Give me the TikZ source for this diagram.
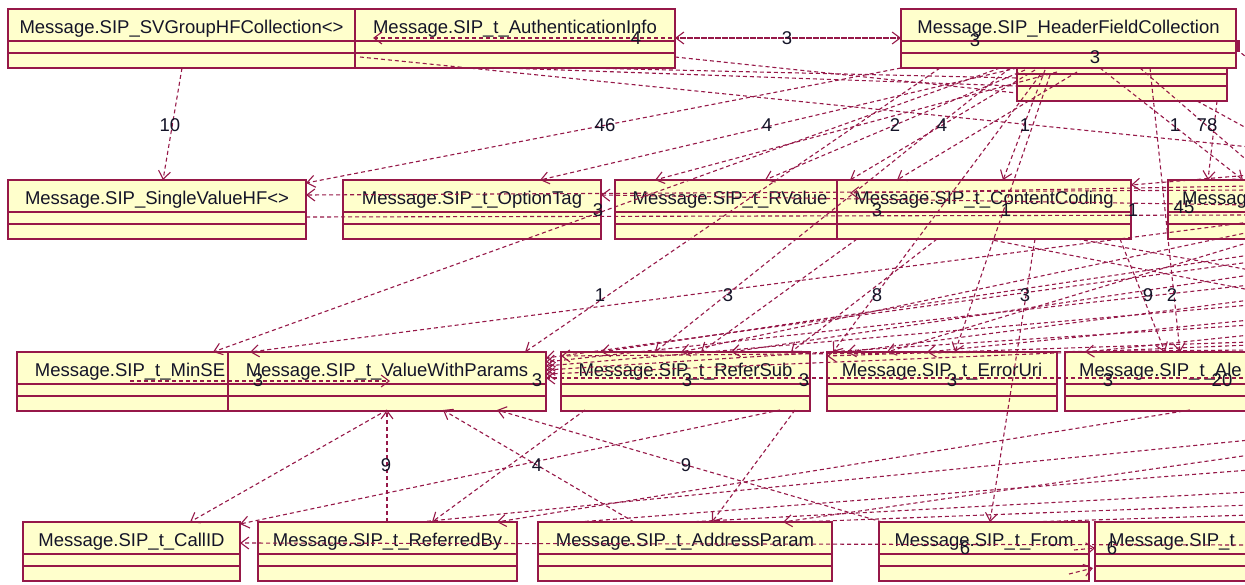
\documentclass[tikz,border=0pt]{standalone}
\usepackage{fontspec}
\setmainfont{Liberation Sans}
\usetikzlibrary{arrows.meta,calc}
\definecolor{bord}{RGB}{150,24,72}
\definecolor{fillc}{RGB}{255,255,204}
\definecolor{txt}{RGB}{20,20,40}
\tikzset{
  umlbox/.style={rectangle, draw=bord, fill=fillc, line width=1.5pt, minimum height=59pt, inner sep=0pt, outer sep=0pt},
  umlline/.style={draw=bord, line width=1.5pt},
  umltext/.style={font=\fontsize{18.5}{20}\selectfont, text=txt, inner sep=0pt},
  dep/.style={draw=bord, line width=1.1pt, dash pattern=on 4pt off 3pt},
  arr/.style={-{Straight Barb[length=8pt,width=12pt]}},
  arrb/.style={{Straight Barb[length=8pt,width=12pt]}-{Straight Barb[length=8pt,width=12pt]}},
  lbl/.style={font=\fontsize{18.5}{20}\selectfont, text=txt, inner sep=0pt},
}
\newcommand{\mkbox}[5]{%
  \node[umlbox, minimum width=#4pt, anchor=north west] (#1) at (#2,#3) {};
  \draw[umlline] ($(#1.north west)+(0,32)$) -- ($(#1.north east)+(0,32)$);
  \draw[umlline] ($(#1.north west)+(0,44)$) -- ($(#1.north east)+(0,44)$);
  \node[umltext, anchor=base] (#1t) at ($(#1.north)+(0,24)$) {#5};
}
\newcommand{\mkboxl}[5]{%
  \node[umlbox, minimum width=#4pt, anchor=north west] (#1) at (#2,#3) {};
  \draw[umlline] ($(#1.north west)+(0,32)$) -- ($(#1.north east)+(0,32)$);
  \draw[umlline] ($(#1.north west)+(0,44)$) -- ($(#1.north east)+(0,44)$);
  \node[umltext, anchor=base west] (#1t) at ($(#1.north west)+(14,24)$) {#5};
}
\begin{document}
\begin{tikzpicture}[x=1pt,y=-1pt]
\useasboundingbox (0,0) rectangle (1245,584);
\clip (0,0) rectangle (1245,584);
\fill[white] (0,0) rectangle (1245,584);
\node[inner sep=0pt,outer sep=0pt,minimum size=0pt] (o) at (0,0) {};

% boxes
\mkbox{b1}{8}{9}{347}{Message.SIP\_SVGroupHFCollection<>}
\mkbox{b2}{355}{9}{320}{Message.SIP\_t\_AuthenticationInfo}
\mkbox{b4}{1017}{42}{210}{}
\mkbox{b3}{901}{9}{335}{Message.SIP\_HeaderFieldCollection}
\mkbox{b5}{8}{180}{298}{Message.SIP\_SingleValueHF<>}
\mkbox{b6}{343}{180}{258}{Message.SIP\_t\_OptionTag}
\mkbox{b7}{615}{180}{230}{Message.SIP\_t\_RValue}
\mkbox{b8}{837}{180}{294}{Message.SIP\_t\_ContentCoding}
\mkboxl{b9}{1168}{180}{200}{Messag}
\mkbox{b10}{17}{352}{226}{Message.SIP\_t\_MinSE}
\mkbox{b11}{228}{352}{318}{Message.SIP\_t\_ValueWithParams}
\mkbox{b12}{561}{352}{249}{Message.SIP\_t\_ReferSub}
\mkbox{b13}{827}{352}{230}{Message.SIP\_t\_ErrorUri}
\mkboxl{b14}{1065}{352}{250}{Message.SIP\_t\_Ale}
\mkbox{b15}{23}{522}{217}{Message.SIP\_t\_CallID}
\mkbox{b16}{258}{522}{259}{Message.SIP\_t\_ReferredBy}
\mkbox{b17}{538}{522}{294}{Message.SIP\_t\_AddressParam}
\mkbox{b18}{879}{522}{210}{Message.SIP\_t\_From}
\mkboxl{b19}{1095}{522}{250}{Message.SIP\_t}
\fill[bord] (1236,40) rectangle (1240,52);

% connectors
\draw[dep,arr] ($(b1.north west)+(174,59)$) -- ($(b5.north west)+(155,0)$);
\draw[dep,arr] ($(b3.north west)+(0,29)$) -- ($(b2.north west)+(320,29)$);
\draw[dep,arrb] ($(b2.north west)+(18,29)$) -- ($(b3.north west)+(0,29)$);
\draw[dep] ($(b2.north west)+(5,48)$) -- ($(o)+(1250,147)$);
\draw[dep] ($(b2.north west)+(320,48)$) -- ($(b4.north west)+(0,51)$);
\draw[dep] ($(b2.north west)+(230,59)$) -- ($(b4.north west)+(0,36)$);
\draw[dep] ($(b2.north west)+(150,59)$) -- ($(b4.north west)+(0,44)$);
\draw[dep,arr] ($(b3.north west)+(0,59)$) -- ($(b5.north west)+(298,3)$);
\draw[dep,arr] ($(b4.north west)+(0,26)$) -- ($(b6.north west)+(197,0)$);
\draw[dep,arr] ($(b4.north west)+(8,28)$) -- ($(b7.north west)+(150,0)$);
\draw[dep,arr] ($(b4.north west)+(18,28)$) -- ($(b8.north west)+(13,0)$);
\draw[dep,arr] ($(b4.north west)+(28,28)$) -- ($(b8.north west)+(166,0)$);
\draw[dep,arr] ($(b4.north west)+(83,26)$) -- ($(b9.north west)+(75,0)$);
\draw[dep] ($(b4.north west)+(123,26)$) -- ($(o)+(1250,163)$);
\draw[dep,arr] ($(b4.north west)+(40,30)$) -- ($(b7.north west)+(40,0)$);
\draw[dep,arr] ($(b4.north west)+(60,30)$) -- ($(b8.north west)+(60,0)$);
\draw[dep,arr] ($(b4.north west)+(200,59)$) -- ($(b9.north west)+(40,0)$);
\draw[dep,arr] ($(b3.north west)+(39,59)$) -- ($(b11.north west)+(297,0)$);
\draw[dep,arr] ($(b3.north west)+(109,59)$) -- ($(b12.north west)+(94,0)$);
\draw[dep,arr] ($(b4.north west)+(23,33)$) -- ($(b13.north west)+(6,0)$);
\draw[dep,arr] ($(b8.north west)+(198,59)$) -- ($(b18.north west)+(111,0)$);
\draw[dep,arr] ($(b3.north west)+(249,59)$) -- ($(b14.north west)+(115,0)$);
\draw[dep,arr] ($(b8.north west)+(283,59)$) -- ($(b14.north west)+(100,0)$);
\draw[dep,arr] ($(b3.north west)+(99,59)$) -- ($(b10.north west)+(196,0)$);
\draw[dep,arr] ($(b4.north west)+(33,33)$) -- ($(b13.north west)+(128,0)$);
\draw[dep,arr] ($(o)+(1250,222)$) -- ($(b11.north west)+(22,0)$);
\draw[dep,arr] ($(o)+(1250,262)$) -- ($(b11.north west)+(318,6)$);
\draw[dep,arr] ($(o)+(1250,285)$) -- ($(b11.north west)+(318,10)$);
\draw[dep,arr] ($(o)+(1250,305)$) -- ($(b11.north west)+(318,14)$);
\draw[dep,arr] ($(o)+(1250,325)$) -- ($(b11.north west)+(318,18)$);
\draw[dep,arr] ($(o)+(1250,345)$) -- ($(b11.north west)+(318,22)$);
\draw[dep,arr] ($(o)+(1250,378)$) -- ($(b11.north west)+(318,26)$);
\draw[dep,arr] ($(b10.north west)+(113,29)$) -- ($(b11.north west)+(162,29)$);
\draw[dep,arr] ($(o)+(1250,190)$) -- ($(b5.north west)+(298,15)$);
\draw[dep] ($(b5.north west)+(298,37)$) -- ($(o)+(1250,215)$);
\draw[dep,arr] ($(o)+(1250,175)$) -- ($(b8.north west)+(294,5)$);
\draw[dep,arr] ($(o)+(1250,205)$) -- ($(b6.north west)+(258,15)$);
\draw[dep,arr] ($(o)+(1250,186)$) -- ($(b8.north west)+(13,13)$);
\draw[dep,arr] ($(b16.north west)+(129,0)$) -- ($(b11.north west)+(159,58)$);
\draw[dep,arr] ($(b11.north west)+(159,58)$) -- ($(b15.north west)+(167,0)$);
\draw[dep,arr] ($(b17.north west)+(96,0)$) -- ($(b11.north west)+(215,58)$);
\draw[dep,arr] ($(b18.north west)+(3,0)$) -- ($(b11.north west)+(269,58)$);
\draw[dep,arr] ($(b12.north west)+(24,58)$) -- ($(b16.north west)+(174,0)$);
\draw[dep,arr] ($(b14.north west)+(125,58)$) -- ($(b16.north west)+(239,0)$);
\draw[dep,arr] ($(b12.north west)+(234,58)$) -- ($(b17.north west)+(174,0)$);
\draw[dep,arr] ($(o)+(1250,455)$) -- ($(b17.north west)+(245,0)$);
\draw[dep,arr] ($(b12.north west)+(219,58)$) -- ($(b15.north west)+(217,2)$);
\draw[dep,arr] ($(o)+(1250,545)$) -- ($(b15.north west)+(217,21)$);
\draw[dep,arr] ($(b18.north west)+(195,28)$) -- ($(b19.north west)+(0,26)$);
\draw[dep,arr] ($(b18.north west)+(190,52)$) -- ($(b19.north west)+(-2,46)$);
\draw[dep] ($(b16.north west)+(162,0)$) -- ($(o)+(1250,440)$);
\draw[dep] ($(b17.north west)+(40,0)$) -- ($(o)+(1250,470)$);
\draw[dep] ($(b17.north west)+(150,0)$) -- ($(o)+(1250,492)$);
\draw[dep] ($(b17.north west)+(260,0)$) -- ($(o)+(1250,505)$);
\draw[dep] ($(b18.north west)+(150,0)$) -- ($(o)+(1250,515)$);
\draw[dep,arr] ($(o)+(1250,255)$) -- ($(b12.north west)+(40,0)$);
\draw[dep,arr] ($(o)+(1250,275)$) -- ($(b12.north west)+(170,0)$);
\draw[dep,arr] ($(o)+(1250,300)$) -- ($(b13.north west)+(20,0)$);
\draw[dep,arr] ($(o)+(1250,320)$) -- ($(b13.north west)+(100,0)$);
\draw[dep,arr] ($(o)+(1250,335)$) -- ($(b14.north west)+(20,0)$);
\draw[dep,arr] ($(o)+(1250,342)$) -- ($(b13.north west)+(0,4)$);
\draw[dep,arr] ($(o)+(1250,350)$) -- ($(b12.north west)+(0,4)$);
\draw[dep,arr] ($(o)+(1250,232)$) -- ($(b12.north west)+(120,0)$);
\draw[dep,arr] ($(o)+(1250,242)$) -- ($(b13.north west)+(60,0)$);
\draw[dep] ($(b8.north west)+(150,59)$) -- ($(o)+(1250,290)$);
\draw[dep] ($(b8.north west)+(240,59)$) -- ($(o)+(1250,270)$);
\draw[dep,arr] ($(b8.north west)+(20,59)$) -- ($(b12.north west)+(140,0)$);
\draw[dep,arr] ($(b8.north west)+(100,59)$) -- ($(b12.north west)+(230,0)$);
\draw[dep] ($(b4.north west)+(180,59)$) -- ($(o)+(1250,130)$);
\draw[dep] ($(b3.north west)+(335,40)$) -- ($(o)+(1250,60)$);

% labels
\node[lbl] at (170,125) {10};
\node[lbl] at (636,38) {4};
\node[lbl] at (787,38) {3};
\node[lbl] at (975,40) {3};
\node[lbl] at (1095,57) {3};
\node[lbl] at (605,125) {46};
\node[lbl] at (767,125) {4};
\node[lbl] at (895,125) {2};
\node[lbl] at (942,125) {4};
\node[lbl] at (1025,125) {1};
\node[lbl] at (1175,125) {1};
\node[lbl] at (1207,125) {78};
\node[lbl] at (598,210) {3};
\node[lbl] at (877,210) {3};
\node[lbl] at (1006,210) {1};
\node[lbl] at (1133,210) {1};
\node[lbl] at (1184,207) {45};
\node[lbl] at (600,295) {1};
\node[lbl] at (728,295) {3};
\node[lbl] at (877,295) {8};
\node[lbl] at (1025,295) {3};
\node[lbl] at (1148,295) {9};
\node[lbl] at (1172,295) {2};
\node[lbl] at (258,380) {3};
\node[lbl] at (537,380) {3};
\node[lbl] at (687,380) {3};
\node[lbl] at (804,380) {3};
\node[lbl] at (952,380) {3};
\node[lbl] at (1108,380) {3};
\node[lbl] at (1222,380) {20};
\node[lbl] at (386,465) {9};
\node[lbl] at (537,465) {4};
\node[lbl] at (686,465) {9};
\node[lbl] at (965,548) {6};
\node[lbl] at (1112,548) {6};
\end{tikzpicture}
\end{document}
